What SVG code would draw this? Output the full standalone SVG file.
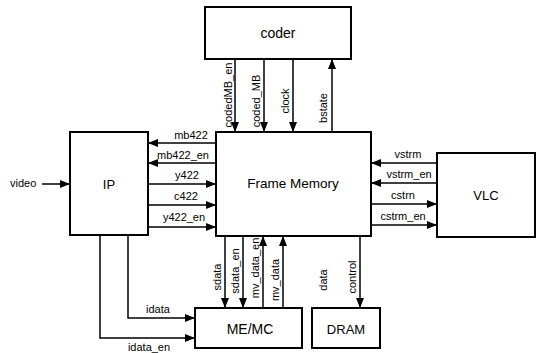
<svg xmlns="http://www.w3.org/2000/svg" width="539" height="353" viewBox="0 0 539 353">
<style>
.box{fill:#fff;stroke:#000;stroke-width:2}
.ln{fill:none;stroke:#000;stroke-width:1.5}
.t{font-family:"Liberation Sans",Arial,sans-serif;font-size:11px;fill:#000}
.bt{font-family:"Liberation Sans",Arial,sans-serif;font-size:13px;fill:#000;text-anchor:middle}
</style>
<defs>
<marker id="ah" viewBox="0 0 10 8" refX="10" refY="4" markerWidth="10" markerHeight="8" markerUnits="userSpaceOnUse" orient="auto">
<path d="M0,0 L10,4 L0,8 z" fill="#000"/>
</marker>
</defs>
<rect width="539" height="353" fill="#fff"/>
<g id="coder"><rect class="box" x="205" y="7" width="146" height="52"/><text class="bt" x="278" y="38" style="font-size:14px">coder</text></g>
<g id="frame-memory"><rect class="box" x="216" y="132" width="155" height="104"/><text class="bt" x="293" y="188" style="font-size:13.5px">Frame Memory</text></g>
<g id="ip"><rect class="box" x="70" y="132" width="78" height="103"/><text class="bt" x="109" y="189">IP</text></g>
<g id="vlc"><rect class="box" x="437" y="153" width="98" height="84"/><text class="bt" x="486" y="200">VLC</text></g>
<g id="memc"><rect class="box" x="195" y="308" width="107" height="40"/><text class="bt" x="250" y="334" style="font-size:14px">ME/MC</text></g>
<g id="dram"><rect class="box" x="312" y="308" width="68" height="40"/><text class="bt" x="346" y="334">DRAM</text></g>
<g id="connectors">
<line class="ln" x1="235" y1="59" x2="235" y2="132" marker-end="url(#ah)"/>
<line class="ln" x1="264" y1="59" x2="264" y2="132" marker-end="url(#ah)"/>
<line class="ln" x1="293" y1="59" x2="293" y2="132" marker-end="url(#ah)"/>
<line class="ln" x1="332" y1="132" x2="332" y2="59" marker-end="url(#ah)"/>
<line class="ln" x1="216" y1="143" x2="148" y2="143" marker-end="url(#ah)"/>
<line class="ln" x1="216" y1="163" x2="148" y2="163" marker-end="url(#ah)"/>
<line class="ln" x1="148" y1="184" x2="216" y2="184" marker-end="url(#ah)"/>
<line class="ln" x1="148" y1="205" x2="216" y2="205" marker-end="url(#ah)"/>
<line class="ln" x1="148" y1="227" x2="216" y2="227" marker-end="url(#ah)"/>
<line class="ln" x1="42" y1="184" x2="70" y2="184" marker-end="url(#ah)"/>
<line class="ln" x1="437" y1="163" x2="371" y2="163" marker-end="url(#ah)"/>
<line class="ln" x1="437" y1="183" x2="371" y2="183" marker-end="url(#ah)"/>
<line class="ln" x1="371" y1="204" x2="437" y2="204" marker-end="url(#ah)"/>
<line class="ln" x1="371" y1="225" x2="437" y2="225" marker-end="url(#ah)"/>
<line class="ln" x1="225" y1="236" x2="225" y2="308" marker-end="url(#ah)"/>
<line class="ln" x1="243" y1="236" x2="243" y2="308" marker-end="url(#ah)"/>
<line class="ln" x1="263" y1="308" x2="263" y2="236" marker-end="url(#ah)"/>
<line class="ln" x1="283" y1="308" x2="283" y2="236" marker-end="url(#ah)"/>
<line class="ln" x1="360" y1="236" x2="360" y2="308" marker-end="url(#ah)"/>
<polyline class="ln" points="128,235 128,318 195,318" marker-end="url(#ah)"/>
<polyline class="ln" points="100,235 100,338 195,338" marker-end="url(#ah)"/>
</g>
<g id="labels">
<text class="t" transform="translate(232,95) rotate(-90)" text-anchor="middle">codedMB_en</text>
<text class="t" transform="translate(260,101) rotate(-90)" text-anchor="middle">coded_MB</text>
<text class="t" transform="translate(289,101) rotate(-90)" text-anchor="middle">clock</text>
<text class="t" transform="translate(327,108) rotate(-90)" text-anchor="middle">bstate</text>
<text class="t" x="191" y="139" text-anchor="middle">mb422</text>
<text class="t" x="183" y="159" text-anchor="middle">mb422_en</text>
<text class="t" x="187" y="179" text-anchor="middle">y422</text>
<text class="t" x="186" y="200" text-anchor="middle">c422</text>
<text class="t" x="184" y="221" text-anchor="middle">y422_en</text>
<text class="t" x="10" y="187">video</text>
<text class="t" x="408" y="158" text-anchor="middle">vstrm</text>
<text class="t" x="409" y="178" text-anchor="middle">vstrm_en</text>
<text class="t" x="403" y="199" text-anchor="middle">cstrn</text>
<text class="t" x="403" y="220" text-anchor="middle">cstrm_en</text>
<text class="t" transform="translate(221,277) rotate(-90)" text-anchor="middle">sdata</text>
<text class="t" transform="translate(239,271) rotate(-90)" text-anchor="middle">sdata_en</text>
<text class="t" transform="translate(259,268) rotate(-90)" text-anchor="middle">mv_data_en</text>
<text class="t" transform="translate(279,280) rotate(-90)" text-anchor="middle">mv_data</text>
<text class="t" transform="translate(327,280) rotate(-90)" text-anchor="middle">data</text>
<text class="t" transform="translate(356,277) rotate(-90)" text-anchor="middle">control</text>
<text class="t" x="158" y="313" text-anchor="middle">idata</text>
<text class="t" x="149" y="351" text-anchor="middle">idata_en</text>
</g>
</svg>
